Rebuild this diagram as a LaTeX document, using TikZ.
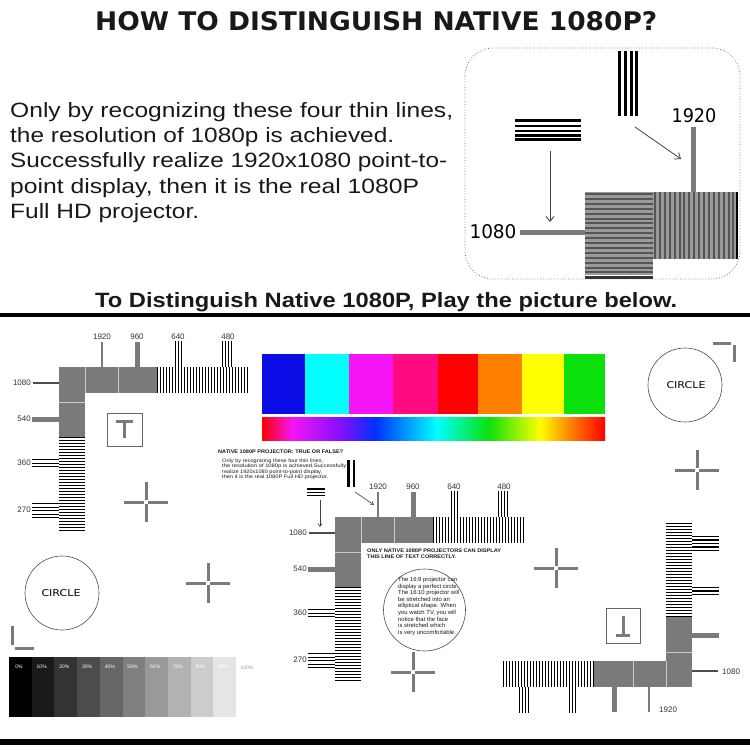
\documentclass[tikz,border=0pt]{standalone}
\usepackage{fontspec}
\setmainfont{Liberation Sans}
\newfontfamily\dejavu{DejaVu Sans}
\usepackage{graphicx}
\usetikzlibrary{arrows.meta}
\definecolor{pgray}{HTML}{7A7A7A}
\definecolor{sgray}{HTML}{9A9A9A}
\definecolor{dgray}{HTML}{555555}
\definecolor{cblue}{HTML}{0B0BE6}
\definecolor{ccyan}{HTML}{00FFFF}
\definecolor{cmag}{HTML}{F414F4}
\definecolor{cpink}{HTML}{FF0A80}
\definecolor{cred}{HTML}{FF0000}
\definecolor{corange}{HTML}{FF8000}
\definecolor{cyellow}{HTML}{FFFF00}
\definecolor{cgreen}{HTML}{0CE00C}
\definecolor{rviolet}{HTML}{7A10FF}
\definecolor{rblue}{HTML}{0030FF}
\pgfdeclarehorizontalshading{rainbowbar}{100bp}{color(0bp)=(cred); color(25bp)=(cred); color(29.4bp)=(cmag); color(37bp)=(rviolet); color(41.5bp)=(rblue); color(50.5bp)=(ccyan); color(58bp)=(cgreen); color(65.5bp)=(cyellow); color(70bp)=(corange); color(75bp)=(cred); color(100bp)=(cred)}
\newcommand\fitw[3]{\resizebox{#1pt}{#2pt}{#3}}
\newcommand\crosshair[2]{\draw[crossst] (#1,#2) ++(-22,0) -- ++(20,0) ++(4,0) -- ++(20,0) (#1,#2) ++(0,-20) -- ++(0,18) ++(0,4) -- ++(0,18);}
\newcommand\tpat{%
  \fill[pgray] (59,367) rectangle (157,393);
  \fill[pgray] (59,393) rectangle (85,437);
  \draw[sepst] (85,367) -- (85,393) (118,367) -- (118,393) (59,402) -- (85,402);
  \foreach \i in {0,...,30} \fill (157+3*\i,367) rectangle ++(1.4,26);
  \foreach \i in {0,...,31} \fill (59,437+3*\i) rectangle ++(26,1.4);
  \fill[pgray] (101,342) rectangle (103,367);
  \fill[pgray] (134.5,342) rectangle (139.5,367);
  \foreach \x in {175,178,181} \fill (\x,341) rectangle ++(1.4,26);
  \foreach \x in {222,225,228,231} \fill (\x,341) rectangle ++(1.4,26);
  \fill[black!70] (33,382) rectangle (59,384);
  \fill[pgray] (32,416.5) rectangle (59,421.5);
  \foreach \y in {459,462.5,466} \fill (32,\y) rectangle ++(27,1.4);
  \foreach \y in {503,506.5,510,513.5,517} \fill (32,\y) rectangle ++(27,1.4);
}
\begin{document}
\begin{tikzpicture}[x=1pt,y=-1pt,
  crossst/.style={draw=pgray,line width=3pt},
  sepst/.style={draw=white!60!pgray,line width=0.5pt},
  lbl/.style={font=\fontsize{8}{9}\selectfont,text=black!80,inner sep=0pt},
  txt/.style={inner sep=0pt,anchor=base west,text=black!90},
  circst/.style={draw=black!70,line width=0.6pt},
  arr/.style={draw=black!75,line width=0.8pt,-{Straight Barb[length=5pt,width=8pt]}}]
\useasboundingbox (0,0) rectangle (750,750);
\fill[white] (0,0) rectangle (750,750);
% ---------- header ----------
\node[txt] (title) at (95,30) {\fitw{562}{19}{\dejavu\bfseries HOW TO DISTINGUISH NATIVE 1080P?}};
\node[txt] (p1) at (10,117) {\fitw{443}{15}{Only by recognizing these four thin lines,}};
\node[txt] (p2) at (10,142) {\fitw{384}{15}{the resolution of 1080p is achieved.}};
\node[txt] (p3) at (10,167) {\fitw{437}{15}{Successfully realize 1920x1080 point-to-}};
\node[txt] (p4) at (10,193) {\fitw{409}{15}{point display, then it is the real 1080P}};
\node[txt] (p5) at (10,218) {\fitw{189}{15}{Full HD projector.}};
\node[txt] (sub) at (95,307) {\fitw{582}{15}{\bfseries To Distinguish Native 1080P, Play the picture below.}};
\fill (0,313) rectangle (750,317);
\fill (0,739) rectangle (750,745);
% ---------- inset ----------
\draw[black!55,dotted,line width=0.8pt,rounded corners=28pt] (465,48) rectangle (740,279);
\foreach \x in {618,624,629.5,635} \fill (\x,51) rectangle (\x+3.2,116);
\foreach \y in {119.3,125,130,134.3,138.3} \fill (515,\y) rectangle (581,\y+2.3);
\coordinate (a1s) at (550,151); \coordinate (a1e) at (550,222);
\coordinate (a2s) at (635,127); \coordinate (a2e) at (681,159);
\draw[arr] (a1s) -- (a1e);
\draw[arr] (a2s) -- (a2e);
\node[inner sep=0pt] (t1920) at (694,116) {\fitw{45}{14}{\dejavu 1920}};
\node[inner sep=0pt] (t1080) at (493,232) {\fitw{47}{14}{\dejavu 1080}};
\fill[pgray] (691,127) rectangle (696,193);
\fill[pgray] (520,230) rectangle (585,234.5);
\fill[sgray] (585,192) rectangle (653,275);
\foreach \i in {0,...,16} \fill[dgray] (585,193+4.9*\i) rectangle ++(68,2);
\fill[black!80] (585,275.5) rectangle (653,279);
\fill[sgray] (653,192) rectangle (737,259);
\foreach \i in {0,...,16} \fill[dgray] (654+4.9*\i,192) rectangle ++(2,67);
\fill (735.5,192) rectangle (738,259);
% ---------- test patterns ----------
\tpat
\begin{scope}[shift={(276,150)}]\tpat\end{scope}
\begin{scope}[shift={(751,1054)},xscale=-1,yscale=-1]\tpat\end{scope}
% labels top-left
\node[lbl] (l1a) at (102,337) {1920};
\node[lbl] (l1b) at (137,337) {960};
\node[lbl] (l1c) at (178,337) {640};
\node[lbl] (l1d) at (228,337) {480};
\node[lbl,anchor=east] (l1e) at (31,383) {1080};
\node[lbl,anchor=east] (l1f) at (31,419) {540};
\node[lbl,anchor=east] (l1g) at (31,463) {360};
\node[lbl,anchor=east] (l1h) at (31,510) {270};
% labels centre
\node[lbl] (l2a) at (378,487) {1920};
\node[lbl] (l2b) at (413,487) {960};
\node[lbl] (l2c) at (454,487) {640};
\node[lbl] (l2d) at (504,487) {480};
\node[lbl,anchor=east] (l2e) at (307,533) {1080};
\node[lbl,anchor=east] (l2f) at (307,569) {540};
\node[lbl,anchor=east] (l2g) at (307,613) {360};
\node[lbl,anchor=east] (l2h) at (307,660) {270};
% labels bottom-right
\node[lbl,anchor=west] (l3a) at (722,672) {1080};
\node[lbl,anchor=west] (l3b) at (659,710) {1920};
% ---------- colour bars ----------
\fill[cblue] (262,354) rectangle (305,414);
\fill[ccyan] (305,354) rectangle (349.3,414);
\fill[cmag] (349.3,354) rectangle (393.3,414);
\fill[cpink] (393.3,354) rectangle (437.7,414);
\fill[cred] (437.7,354) rectangle (477.7,414);
\fill[corange] (477.7,354) rectangle (522.3,414);
\fill[cyellow] (522.3,354) rectangle (564,414);
\fill[cgreen] (564,354) rectangle (605,414);
\shade[shading=rainbowbar] (262,417) rectangle (605,440);
% ---------- centre texts ----------
\node[txt] (nt0) at (218,453) {\fitw{125}{3.6}{\bfseries NATIVE 1080P PROJECTOR: TRUE OR FALSE?}};
\node[txt] (nt1) at (222,462) {\fitw{101}{3.6}{Only by recognizing these four thin lines,}};
\node[txt] (nt2) at (222,467) {\fitw{124}{3.6}{the resolution of 1080p is achieved.Successfully}};
\node[txt] (nt3) at (222,473) {\fitw{100}{3.6}{realize 1920x1080 point-to-point display,}};
\node[txt] (nt4) at (222,478) {\fitw{106}{3.6}{then it is the real 1080P Full HD projector.}};
\fill (347,460) rectangle (349.5,487);
\fill (352.5,460) rectangle (355,487);
\foreach \y in {488,491.5,494.5} \fill (307,\y) rectangle (325,\y+1.8);
\coordinate (a3s) at (320,500); \coordinate (a3e) at (320,527);
\coordinate (a4s) at (355,492); \coordinate (a4e) at (374,505);
\draw[arr,line width=0.6pt,-{Straight Barb[length=3pt,width=4pt]}] (a3s) -- (a3e);
\draw[arr,line width=0.6pt,-{Straight Barb[length=3pt,width=4pt]}] (a4s) -- (a4e);
\node[txt] (on1) at (367,552) {\fitw{134}{3.6}{\bfseries ONLY NATIVE 1080P PROJECTORS CAN DISPLAY}};
\node[txt] (on2) at (367,558) {\fitw{89}{3.6}{\bfseries THIS LINE OF TEXT CORRECTLY.}};
\draw[circst] (424.5,610) circle (41pt);
\foreach \t/\yy [count=\k] in {{The 16:9 projector can}/581.5,{display a perfect circle.}/588.1,{The 16:10 projector will}/594.7,{be stretched into an}/601.3,{elliptical shape. When}/607.9,{you watch TV, you will}/614.5,{notice that the face}/621.1,{is stretched which}/627.7,{is very uncomfortable.}/634.3}
  \node[txt,name=ct\k,font=\fontsize{5.9}{6.6}\selectfont] at (398,\yy) {\t};
% ---------- misc marks ----------
\draw[black!60,line width=0.7pt] (107,413) rectangle (142,446);
\draw[pgray,line width=3pt] (116,421) -- (133,421) (124.5,421) -- (124.5,438);
\draw[black!60,line width=0.7pt] (606,608) rectangle (640,643);
\draw[pgray,line width=3pt] (623,616) -- (623,634) (616,635) -- (630,635);
\crosshair{146}{502}
\crosshair{208}{583}
\crosshair{413}{672}
\crosshair{556}{568}
\crosshair{697}{470}
\draw[pgray,line width=3pt] (713,343) -- (731,343) (734,345) -- (734,362);
\draw[pgray,line width=3pt] (12.5,626) -- (12.5,645) (15,648) -- (34,648);
\draw[circst] (685,385) circle (37pt);
\node[inner sep=0pt] (c1) at (686,385) {\fitw{39}{7}{\dejavu CIRCLE}};
\draw[circst] (62,593) circle (37pt);
\node[inner sep=0pt] (c2) at (61,593) {\fitw{39}{7}{\dejavu CIRCLE}};
% ---------- grayscale ----------
\foreach \i in {0,...,9} {
  \pgfmathtruncatemacro\g{100-10*\i}
  \pgfmathtruncatemacro\p{10*\i}
  \fill[black!\g] (9+22.7*\i,657) rectangle ++(22.8,60);
  \node[name=gs\i,inner sep=0pt,text=white,font=\fontsize{5}{6}\selectfont] at (19+22.7*\i,667) {\p\%};
}
\node[inner sep=0pt,text=black!40,font=\fontsize{5}{6}\selectfont] (g100) at (247,668) {100\%};
\end{tikzpicture}
\end{document}
